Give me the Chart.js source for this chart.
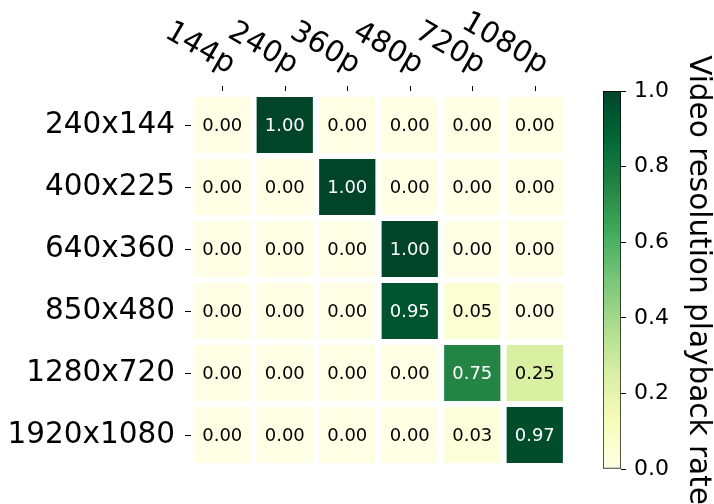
<!DOCTYPE html>
<html>
<head>
<meta charset="utf-8">
<script src="https://cdn.jsdelivr.net/npm/chart.js@4/dist/chart.umd.min.js"></script>
<style>
  body { margin: 0; background: #fff; }
  #wrap { position: relative; width: 714px; height: 504px; }
  #wrap canvas { position: absolute; top: 0; }
</style>
</head>
<body>
<div id="wrap">
  <canvas id="heat" width="714" height="504" style="left:0"></canvas>
  <canvas id="cbar" width="124" height="504" style="left:590px"></canvas>
</div>
<script>
const playbackRes = ['144p', '240p', '360p', '480p', '720p', '1080p']
const screenRes = ['240x144', '400x225', '640x360', '850x480', '1280x720', '1920x1080']
const rates = [
  [0.00, 1.00, 0.00, 0.00, 0.00, 0.00],
  [0.00, 0.00, 1.00, 0.00, 0.00, 0.00],
  [0.00, 0.00, 0.00, 1.00, 0.00, 0.00],
  [0.00, 0.00, 0.00, 0.95, 0.05, 0.00],
  [0.00, 0.00, 0.00, 0.00, 0.75, 0.25],
  [0.00, 0.00, 0.00, 0.00, 0.03, 0.97]
]
const cbarTicks = [0, 0.2, 0.4, 0.6, 0.8, 1.0]

const FONT = 'DejaVu Sans'

// YlGn colour map
const ylgn = ['#ffffe5', '#f7fcb9', '#d9f0a3', '#addd8e', '#78c679', '#41ab5d', '#238443', '#006837', '#004529']
function hexToRgb(h) {
  return [1, 3, 5].map(i => parseInt(h.slice(i, i + 2), 16))
}
function colorFor(v) {
  const p = Math.max(0, Math.min(1, v)) * (ylgn.length - 1)
  const i = Math.min(Math.floor(p), ylgn.length - 2)
  const t = p - i
  const a = hexToRgb(ylgn[i]), b = hexToRgb(ylgn[i + 1])
  const c = a.map((x, k) => Math.round(x + (b[k] - x) * t))
  return `rgb(${c[0]},${c[1]},${c[2]})`
}

const cellLabels = {
  id: 'cellLabels',
  afterDatasetsDraw(chart) {
    const {ctx, scales: {x, y}} = chart
    ctx.save()
    ctx.font = `18px ${FONT}`
    ctx.textAlign = 'center'
    ctx.textBaseline = 'middle'
    rates.forEach((row, i) => {
      row.forEach((v, j) => {
        ctx.fillStyle = v > 0.5 ? '#fff' : '#000'
        ctx.fillText(v.toFixed(2), x.getPixelForValue(j), y.getPixelForValue(i) + 1)
      })
    })
    ctx.restore()
  }
}

// rotated column labels along the top, with their tick marks
const topLabels = {
  id: 'topLabels',
  afterDraw(chart) {
    const {ctx, chartArea, scales: {x}} = chart
    ctx.save()
    ctx.font = `29.5px ${FONT}`
    ctx.textAlign = 'right'
    ctx.textBaseline = 'alphabetic'
    ctx.fillStyle = '#000'
    ctx.strokeStyle = '#000'
    ctx.lineWidth = 1
    playbackRes.forEach((lab, j) => {
      const px = Math.round(x.getPixelForValue(j)) + 0.5
      ctx.beginPath()
      ctx.moveTo(px, chartArea.top - 8)
      ctx.lineTo(px, chartArea.top - 3)
      ctx.stroke()
      ctx.save()
      ctx.translate(px + 6, 74)
      ctx.rotate(30 * Math.PI / 180)
      ctx.fillText(lab, 0, 0)
      ctx.restore()
    })
    ctx.restore()
  }
}

new Chart(document.getElementById('heat'), {
  type: 'bar',
  data: {
    labels: playbackRes,
    datasets: rates.map((row, i) => ({
      label: screenRes[i],
      data: row.map(() => [i - 0.45, i + 0.45]),
      backgroundColor: row.map(colorFor),
      borderWidth: 0,
      grouped: false,
      barPercentage: 0.9,
      categoryPercentage: 1
    }))
  },
  options: {
    responsive: false,
    animation: false,
    layout: {padding: {left: 0, top: 94, right: 148, bottom: 38}},
    plugins: {legend: {display: false}, tooltip: {enabled: false}},
    scales: {
      x: {type: 'category', display: false},
      y: {
        type: 'linear',
        min: -0.5,
        max: 5.5,
        reverse: true,
        afterBuildTicks: s => { s.ticks = screenRes.map((r, i) => ({value: i})) },
        afterFit: s => { s.width = 191 },
        ticks: {
          callback: v => screenRes[v],
          font: {family: FONT, size: 29.5},
          color: '#000',
          padding: 10
        },
        grid: {drawOnChartArea: false, tickLength: 6, color: '#000'},
        border: {display: false}
      }
    }
  },
  plugins: [cellLabels, topLabels]
})

// colour bar
new Chart(document.getElementById('cbar'), {
  type: 'bar',
  data: {
    labels: ['rate'],
    datasets: [{
      data: [[0, 1]],
      backgroundColor: ctx => {
        const area = ctx.chart.chartArea
        if (!area) return ylgn[0]
        const g = ctx.chart.ctx.createLinearGradient(0, area.bottom, 0, area.top)
        ylgn.forEach((c, i) => g.addColorStop(i / (ylgn.length - 1), c))
        return g
      },
      borderColor: '#000',
      borderWidth: 1,
      borderSkipped: false,
      barPercentage: 1,
      categoryPercentage: 1
    }]
  },
  options: {
    responsive: false,
    animation: false,
    layout: {padding: {left: 13, top: 91, right: 0, bottom: 35}},
    plugins: {legend: {display: false}, tooltip: {enabled: false}},
    scales: {
      x: {display: false},
      y: {
        position: 'right',
        min: 0,
        max: 1,
        afterBuildTicks: s => { s.ticks = cbarTicks.map(v => ({value: v})) },
        afterFit: s => { s.width = 93 },
        ticks: {
          callback: v => v.toFixed(1),
          font: {family: FONT, size: 22},
          color: '#000',
          padding: 8
        },
        grid: {drawOnChartArea: false, tickLength: 5, color: '#000'},
        border: {display: false},
        title: {
          display: true,
          text: 'Video resolution playback rate',
          font: {family: FONT, size: 29.5, lineHeight: 1},
          color: '#000',
          padding: {top: 2, bottom: 0}
        }
      }
    }
  }
})
</script>
</body>
</html>
